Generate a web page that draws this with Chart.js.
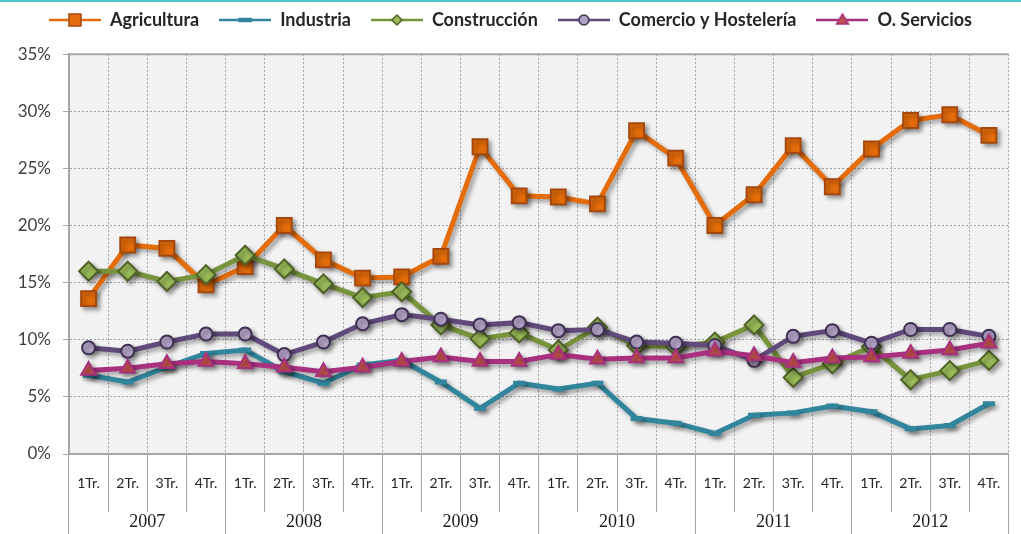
<!DOCTYPE html>
<html>
<head>
<meta charset="utf-8">
<script src="https://cdn.jsdelivr.net/npm/chart.js@4/dist/chart.umd.min.js"></script>
<style>
    html, body { margin: 0; padding: 0; background: #fff; }
    #wrap { width: 1021px; height: 534px; position: relative; border-top: 2px solid #4ec6d0; box-sizing: border-box; }
</style>
</head>
<body>
<div id="wrap"><canvas id="paroChart" width="1021" height="532"></canvas></div>
<script>
// ejes
const quarters = ['1Tr.', '2Tr.', '3Tr.', '4Tr.'];
const years = ['2007', '2008', '2009', '2010', '2011', '2012'];

// series (% tasa de paro por sector)
const agricultura  = [13.6, 18.3, 18.0, 14.8, 16.4, 20.0, 17.0, 15.4, 15.5, 17.3, 26.9, 22.6, 22.5, 21.9, 28.3, 25.9, 20.0, 22.7, 27.0, 23.4, 26.7, 29.2, 29.7, 27.9];
const industria    = [6.9, 6.3, 7.6, 8.8, 9.1, 7.2, 6.2, 7.8, 8.2, 6.3, 4.0, 6.2, 5.7, 6.2, 3.1, 2.7, 1.8, 3.4, 3.6, 4.2, 3.7, 2.2, 2.5, 4.4];
const construccion = [16.0, 16.0, 15.1, 15.7, 17.4, 16.2, 14.9, 13.7, 14.2, 11.3, 10.1, 10.6, 9.1, 11.1, 9.5, 9.4, 9.8, 11.3, 6.7, 7.9, 9.4, 6.5, 7.3, 8.2];
const comercio     = [9.3, 9.0, 9.8, 10.5, 10.5, 8.7, 9.8, 11.4, 12.2, 11.8, 11.3, 11.5, 10.8, 10.9, 9.8, 9.7, 9.5, 8.2, 10.3, 10.8, 9.7, 10.9, 10.9, 10.3];
const servicios    = [7.3, 7.5, 7.9, 8.1, 7.9, 7.6, 7.2, 7.6, 8.1, 8.5, 8.1, 8.1, 8.7, 8.3, 8.4, 8.4, 9.0, 8.6, 8.0, 8.4, 8.5, 8.8, 9.1, 9.7];

const seriesNames = ['Agricultura', 'Industria', 'Construcción', 'Comercio y Hostelería', 'O. Servicios'];

// 1Tr..4Tr repetido por año
let labels = [];
years.forEach(function(y) { quarters.forEach(function(q) { labels.push(q); }); });

// estilos de cada serie
const styles = [
    { line: '#e46c0a', fill: '#e46c0a', border: '#a5480f', point: 'rect', r: 10.5, bw: 2 },
    { line: '#31859c', fill: '#31859c', border: '#31859c', point: 'line', r: 6, bw: 5 },
    { line: '#77933c', fill: '#9bbb59', border: '#4f6228', point: 'rectRot', r: 9.5, bw: 2 },
    { line: '#604a7b', fill: '#b3a2c7', border: '#3f3151', point: 'circle', r: 6.5, bw: 2 },
    { line: '#a8307e', fill: '#c0504d', border: '#a8307e', point: 'triangle', r: 8.5, bw: 2 }
];

// icono de leyenda: linea + marcador
function legendIcon(s) {
    let c = document.createElement('canvas');
    c.width = 52; c.height = 20;
    let g = c.getContext('2d');
    g.strokeStyle = s.line;
    g.lineWidth = 2.5;
    g.beginPath(); g.moveTo(0, 10); g.lineTo(52, 10); g.stroke();
    g.fillStyle = s.fill;
    g.strokeStyle = s.border;
    g.lineWidth = 1.5;
    g.beginPath();
    if (s.point === 'rect') {
        g.rect(20, 4, 12, 12);
    } else if (s.point === 'rectRot') {
        g.moveTo(26, 5); g.lineTo(31, 10); g.lineTo(26, 15); g.lineTo(21, 10); g.closePath();
    } else if (s.point === 'circle') {
        g.arc(26, 10, 5, 0, Math.PI * 2);
    } else if (s.point === 'triangle') {
        g.moveTo(26, 4); g.lineTo(32, 14); g.lineTo(20, 14); g.closePath();
    } else {
        g.rect(20, 8.5, 12, 3);
    }
    g.fill(); g.stroke();
    return c;
}

const seriesData = [agricultura, industria, construccion, comercio, servicios];
let datasets = seriesData.map(function(d, i) {
    let s = styles[i];
    return {
        label: seriesNames[i],
        data: d,
        borderColor: s.line,
        backgroundColor: s.fill,
        borderWidth: 5,
        pointStyle: s.point,
        pointRadius: s.r,
        pointBackgroundColor: s.fill,
        pointBorderColor: s.border,
        pointBorderWidth: s.bw,
        tension: 0,
        order: 5 - i,   // como Excel: la ultima serie encima
        xAxisID: 'x',
        yAxisID: 'y'
    };
});

// fondo gris del area de grafico
const plotBg = {
    id: 'plotBg',
    beforeDraw: function(chart) {
        let a = chart.chartArea, c = chart.ctx;
        c.save();
        c.fillStyle = '#f2f2f2';
        c.fillRect(a.left, a.top, a.right - a.left, a.bottom - a.top);
        c.restore();
    },
    afterDraw: function(chart) {
        let a = chart.chartArea, c = chart.ctx;
        c.save();
        c.strokeStyle = '#a6a6a6';
        c.lineWidth = 2;
        c.beginPath(); c.moveTo(a.left, a.top); c.lineTo(a.right, a.top); c.stroke();
        c.restore();
    }
};

// sombra de las lineas
const shadow = {
    id: 'shadow',
    beforeDatasetsDraw: function(chart) {
        let c = chart.ctx;
        c.save();
        c.shadowColor = 'rgba(0,0,0,0.35)';
        c.shadowBlur = 4;
        c.shadowOffsetX = 3;
        c.shadowOffsetY = 3;
    },
    afterDatasetsDraw: function(chart) {
        chart.ctx.restore();
    }
};

const FONT = 'Lato, "Open Sans", "Liberation Sans", sans-serif';

let ctx = document.getElementById('paroChart').getContext('2d');
let chart = new Chart(ctx, {
    type: 'line',
    data: { labels: labels, datasets: datasets },
    plugins: [plotBg, shadow],
    options: {
        responsive: false,
        animation: false,
        layout: { padding: { top: -11, right: 0, left: 0, bottom: 0 } },
        plugins: {
            tooltip: { enabled: false },
            // titulo vacio, solo para dejar hueco entre leyenda y grafico
            title: {
                display: true,
                text: ' ',
                weight: 500,
                font: { size: 1 },
                padding: { top: 7, bottom: 7 }
            },
            legend: {
                position: 'top',
                labels: {
                    usePointStyle: true,
                    pointStyleWidth: 52,
                    padding: 20,
                    color: '#262626',
                    font: { family: FONT, size: 18, weight: 'bold' },
                    generateLabels: function(ch) {
                        return ch.data.datasets.map(function(ds, i) {
                            return {
                                text: ds.label,
                                pointStyle: legendIcon(styles[i]),
                                fillStyle: styles[i].fill,
                                strokeStyle: styles[i].border,
                                lineWidth: 0,
                                fontColor: '#262626',
                                hidden: false,
                                datasetIndex: i
                            };
                        });
                    }
                }
            }
        },
        scales: {
            x: {
                type: 'category',
                position: 'bottom',
                weight: 0,
                offset: true,
                grid: { display: true, offset: true, color: '#a0a0a0', lineWidth: 1, tickLength: 58, tickColor: '#a6a6a6' },
                border: { display: true, color: '#a6a6a6', width: 2, dash: [2, 2] },
                ticks: { color: '#262626', font: { family: FONT, size: 14 }, padding: -37, maxRotation: 0, autoSkip: false },
                afterFit: function(s) { s.height = 58; }
            },
            year: {
                type: 'category',
                position: 'bottom',
                weight: 1,
                labels: years,
                offset: true,
                grid: { display: true, offset: true, drawOnChartArea: false, tickLength: 22, color: '#a6a6a6', lineWidth: 1 },
                border: { display: false },
                ticks: { color: '#1a1a1a', font: { family: '"Liberation Serif", serif', size: 18 }, padding: -23, maxRotation: 0, autoSkip: false },
                afterFit: function(s) { s.height = 22; }
            },
            y: {
                min: 0,
                max: 35,
                ticks: {
                    stepSize: 5,
                    color: '#404040',
                    padding: 12,
                    font: { family: FONT, size: 17 },
                    callback: function(v) { return v + '%'; }
                },
                grid: { color: '#a0a0a0', lineWidth: 1, tickLength: 6, tickColor: '#a6a6a6' },
                border: { display: true, color: '#a6a6a6', width: 2, dash: [2, 2] },
                afterFit: function(s) { s.width = 69; }
            }
        }
    }
});
</script>
</body>
</html>
